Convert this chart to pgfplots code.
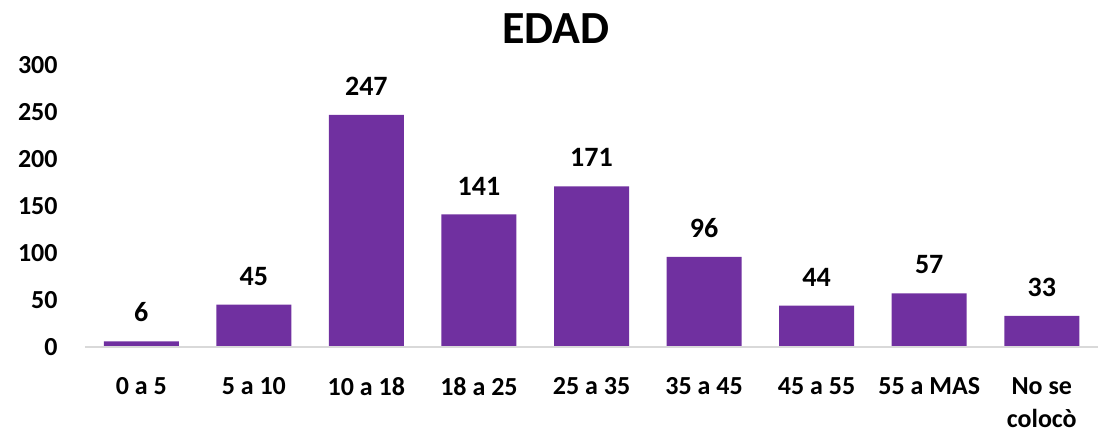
\documentclass[border=0pt]{standalone}
\usepackage{fontspec}
\setmainfont{Carlito}
\usepackage{pgfplots}
\pgfplotsset{compat=1.18}
\definecolor{barpurple}{HTML}{7030A0}
\definecolor{axisgray}{HTML}{D9D9D9}

\begin{document}
\begin{tikzpicture}
\begin{axis}[
  scale only axis,
  width=506.5pt, height=141pt,
  ymin=0, ymax=300,
  xmin=-0.5, xmax=8.5,
  ytick={0,50,...,300},
  xtick=data,
  xticklabels={0 a 5,5 a 10,10 a 18,18 a 25,25 a 35,35 a 45,45 a 55,55 a MAS,{No se\\colocò}},
  major tick length=0pt,
  axis line style={draw=none},
  /pgf/number format/assume math mode=true,
  tick label style={font=\fontsize{13}{16.5}\selectfont\bfseries},
  xticklabel style={anchor=north, inner sep=0pt, yshift=-15pt, align=center},
  yticklabel style={anchor=east, inner sep=0pt, xshift=-13.5pt},
  nodes near coords,
  every node near coord/.append style={font=\fontsize{14}{16}\selectfont\bfseries, anchor=south, inner sep=0pt, yshift=9.5pt},
  clip=false,
]
\addplot[ybar, bar width=37.5pt, fill=barpurple, draw=none] coordinates {
 (0,6)(1,45)(2,247)(3,141)(4,171)(5,96)(6,44)(7,57)(8,33)};
\draw[axisgray, line width=0.75pt] (rel axis cs:0,0) -- (rel axis cs:1,0);
\node[anchor=base, font=\fontsize{23}{26}\selectfont\bfseries] at (rel axis cs:0.465,1.078) {EDAD};
\coordinate (bl) at (rel axis cs:-0.0839,-0.305);
\coordinate (tr) at (rel axis cs:1.0039,1.2305);
\end{axis}
\pgfresetboundingbox
\path[use as bounding box] (bl) rectangle (tr);
\end{tikzpicture}
\end{document}
